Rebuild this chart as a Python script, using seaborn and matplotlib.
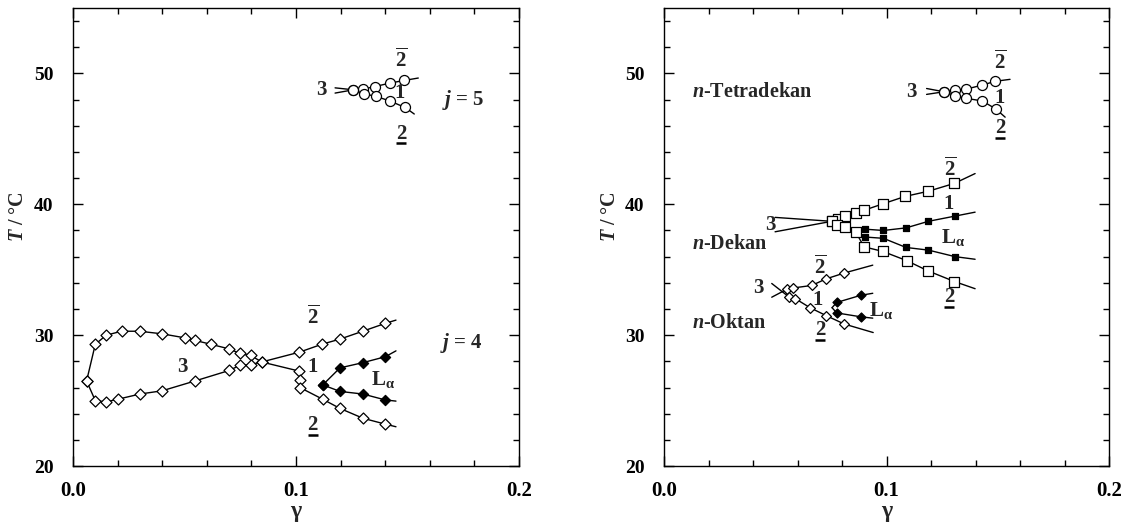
import matplotlib
matplotlib.use("Agg")
import matplotlib.pyplot as plt
import seaborn as sns
from matplotlib.ticker import MultipleLocator, FixedLocator, FixedFormatter
from matplotlib.transforms import ScaledTranslation

sns.set_theme(style="ticks")
plt.rcParams.update({
    "font.family": ["Liberation Serif", "DejaVu Serif"],
    "font.weight": "bold",
    "mathtext.fontset": "custom",
    "mathtext.rm": "Liberation Serif:bold",
    "mathtext.bf": "Liberation Serif:bold",
    "mathtext.it": "Liberation Serif:italic:bold",
    "axes.edgecolor": "black",
    "axes.linewidth": 1.0,
    "xtick.color": "black",
    "ytick.color": "black",
})

# ---------------- left panel: j = 4 ----------------
j4_hi_x = [0.0061, 0.010, 0.0149, 0.0218, 0.0299, 0.040, 0.050, 0.0547, 0.0619, 0.070, 0.0749, 0.0797, 0.0846,
           0.1015, 0.1017, 0.1017, 0.112, 0.1197, 0.130, 0.140]
j4_hi_y = [26.5, 29.3, 30.0, 30.3, 30.3, 30.1, 29.8, 29.6, 29.3, 28.95, 28.6, 28.45, 27.95,
           27.25, 26.56, 26.0, 25.1, 24.4, 23.65, 23.2]
j4_hi_end = (0.1448, 23.0)

j4_lo_x = [0.0061, 0.010, 0.0149, 0.020, 0.030, 0.040, 0.0547, 0.070, 0.0749, 0.0797, 0.0846,
           0.1015, 0.1115, 0.1197, 0.1299, 0.140]
j4_lo_y = [26.5, 25.0, 24.9, 25.1, 25.5, 25.75, 26.5, 27.3, 27.7, 27.75, 27.95,
           28.7, 29.3, 29.7, 30.3, 30.9]
j4_lo_end = (0.1448, 31.15)

j4_la_up_x = [0.112, 0.1197, 0.130, 0.140]
j4_la_up_y = [26.2, 27.5, 27.9, 28.35]
j4_la_up_end = (0.1448, 28.8)
j4_la_dn_x = [0.112, 0.1197, 0.130, 0.140]
j4_la_dn_y = [26.2, 25.7, 25.5, 25.05]
j4_la_dn_end = (0.1448, 24.96)

# ---------------- left panel: j = 5 ----------------
j5_up_x = [0.1257, 0.130, 0.1354, 0.142, 0.1486]
j5_up_y = [48.75, 48.8, 49.0, 49.26, 49.47]
j5_up_ends = [(0.1175, 48.5), (0.1548, 49.65)]
j5_dn_x = [0.1257, 0.1305, 0.136, 0.142, 0.1489]
j5_dn_y = [48.75, 48.45, 48.24, 47.9, 47.4]
j5_dn_ends = [(0.1175, 48.9), (0.153, 46.9)]

# ---------------- right panel: n-Tetradekan ----------------
c14_up_x = [0.1258, 0.1308, 0.1357, 0.1428, 0.1488]
c14_up_y = [48.6, 48.7, 48.8, 49.1, 49.4]
c14_up_ends = [(0.118, 48.4), (0.1555, 49.55)]
c14_dn_x = [0.1258, 0.1308, 0.1357, 0.143, 0.149]
c14_dn_y = [48.6, 48.3, 48.1, 47.9, 47.3]
c14_dn_ends = [(0.118, 48.85), (0.1533, 46.66)]

# ---------------- right panel: n-Dekan ----------------
c10_up_x = [0.0754, 0.0784, 0.0813, 0.0861, 0.0900, 0.0986, 0.1083, 0.1188, 0.1305]
c10_up_y = [38.7, 38.9, 39.1, 39.3, 39.55, 40.05, 40.6, 41.0, 41.6]
c10_up_ends = [(0.0499, 37.9), (0.1398, 42.35)]
c10_dn_x = [0.0754, 0.0776, 0.0813, 0.0861, 0.0899, 0.0983, 0.109, 0.1188, 0.1305]
c10_dn_y = [38.7, 38.4, 38.3, 37.9, 36.75, 36.4, 35.7, 34.9, 34.1]
c10_dn_ends = [(0.0499, 39.0), (0.1398, 33.55)]
c10_la_up_x = [0.0903, 0.0986, 0.1088, 0.1188, 0.1308]
c10_la_up_y = [38.1, 38.0, 38.2, 38.7, 39.1]
c10_la_up_end = (0.1398, 39.4)
c10_la_dn_x = [0.0903, 0.0986, 0.1088, 0.1188, 0.1308]
c10_la_dn_y = [37.5, 37.4, 36.7, 36.5, 36.0]
c10_la_dn_end = (0.1398, 35.8)

# ---------------- right panel: n-Oktan ----------------
c8_up_x = [0.0551, 0.0578, 0.0664, 0.0728, 0.081]
c8_up_y = [33.5, 33.6, 33.8, 34.3, 34.75]
c8_up_ends = [(0.0484, 32.9), (0.0938, 35.35)]
c8_dn_x = [0.0563, 0.0589, 0.0656, 0.0728, 0.081]
c8_dn_y = [32.9, 32.8, 32.1, 31.5, 30.85]
c8_dn_ends = [(0.0484, 33.95), (0.094, 30.2)]
c8_la_up_x = [0.0776, 0.0885]
c8_la_up_y = [32.5, 33.05]
c8_la_up_ends = [(0.0755, 32.1), (0.0938, 33.2)]
c8_la_dn_x = [0.0776, 0.0885]
c8_la_dn_y = [31.7, 31.4]
c8_la_dn_ends = [(0.0755, 32.1), (0.0938, 31.3)]

x_ticks = [0.0, 0.1, 0.2]
x_ticklabels = ["0.0", "0.1", "0.2"]
y_ticks = [20, 30, 40, 50]

BAR2 = r"$\overline{\mathbf{2}}$"
LA = r"$\mathbf{L}_{\mathbf{\alpha}}$"
FS = 15


def branch(ax, xs, ys, start=None, end=None, marker="D", filled=False, ms=5.6):
    lx = ([start[0]] if start else []) + list(xs) + ([end[0]] if end else [])
    ly = ([start[1]] if start else []) + list(ys) + ([end[1]] if end else [])
    sns.lineplot(x=lx, y=ly, sort=False, estimator=None, color="black", lw=1.0, ax=ax, zorder=2)
    sns.scatterplot(x=xs, y=ys, marker=marker, s=ms ** 2,
                    facecolor="black" if filled else "white",
                    edgecolor="black", linewidth=0.9, ax=ax, zorder=3)


def label(ax, x, y, s, **kw):
    ax.text(x, y, s, ha=kw.pop("ha", "center"), va="center", fontsize=kw.pop("fontsize", FS),
            fontweight="bold", **kw)


def label_under(ax, x, y, s):
    # digit with a bar beneath it
    label(ax, x, y, s)
    shift = ScaledTranslation(0, -7.0 / 72, ax.figure.dpi_scale_trans)
    ax.plot([x], [y], marker="_", ms=7.5, mew=1.8, color="black",
            transform=ax.transData + shift, clip_on=False)


fig = plt.figure(figsize=(11.28, 5.28), dpi=100)
axL = fig.add_axes([0.0647, 0.1174, 0.3955, 0.8674])
axR = fig.add_axes([0.5887, 0.1174, 0.3945, 0.8674])

# left panel
branch(axL, j4_hi_x, j4_hi_y, end=j4_hi_end)
branch(axL, j4_lo_x, j4_lo_y, end=j4_lo_end)
branch(axL, j4_la_up_x, j4_la_up_y, end=j4_la_up_end, filled=True, ms=5.2)
branch(axL, j4_la_dn_x, j4_la_dn_y, end=j4_la_dn_end, filled=True, ms=5.2)
branch(axL, j5_up_x, j5_up_y, start=j5_up_ends[0], end=j5_up_ends[1], marker="o", ms=7.2)
branch(axL, j5_dn_x, j5_dn_y, start=j5_dn_ends[0], end=j5_dn_ends[1], marker="o", ms=7.2)

label(axL, 0.049, 27.6, "3")
label(axL, 0.1075, 31.4, BAR2)
label(axL, 0.1075, 27.6, "1")
label(axL, 0.139, 26.6, LA)
label_under(axL, 0.1075, 23.1, "2")
label(axL, 0.174, 29.4, r"$j$ = 4")
label(axL, 0.1113, 48.7, "3")
label(axL, 0.147, 51.0, BAR2)
label(axL, 0.1466, 48.5, "1")
label_under(axL, 0.147, 45.4, "2")
label(axL, 0.175, 47.95, r"$j$ = 5")

# right panel
branch(axR, c14_up_x, c14_up_y, start=c14_up_ends[0], end=c14_up_ends[1], marker="o", ms=7.2)
branch(axR, c14_dn_x, c14_dn_y, start=c14_dn_ends[0], end=c14_dn_ends[1], marker="o", ms=7.2)
branch(axR, c10_up_x, c10_up_y, start=c10_up_ends[0], end=c10_up_ends[1], marker="s", ms=7.0)
branch(axR, c10_dn_x, c10_dn_y, start=c10_dn_ends[0], end=c10_dn_ends[1], marker="s", ms=7.0)
branch(axR, c10_la_up_x, c10_la_up_y, end=c10_la_up_end, marker="s", filled=True, ms=4.2)
branch(axR, c10_la_dn_x, c10_la_dn_y, end=c10_la_dn_end, marker="s", filled=True, ms=4.2)
branch(axR, c8_up_x, c8_up_y, start=c8_up_ends[0], end=c8_up_ends[1], ms=5.0)
branch(axR, c8_dn_x, c8_dn_y, start=c8_dn_ends[0], end=c8_dn_ends[1], ms=5.0)
branch(axR, c8_la_up_x, c8_la_up_y, start=c8_la_up_ends[0], end=c8_la_up_ends[1], filled=True, ms=4.6)
branch(axR, c8_la_dn_x, c8_la_dn_y, start=c8_la_dn_ends[0], end=c8_la_dn_ends[1], filled=True, ms=4.6)

label(axR, 0.0124, 48.6, r"$n$-Tetradekan", ha="left", fontsize=14.5)
label(axR, 0.1113, 48.6, "3")
label(axR, 0.151, 50.9, BAR2)
label(axR, 0.151, 48.1, "1")
label_under(axR, 0.151, 45.8, "2")
label(axR, 0.0124, 37.0, r"$n$-Dekan", ha="left", fontsize=14.5)
label(axR, 0.0476, 38.4, "3")
label(axR, 0.1285, 42.7, BAR2)
label(axR, 0.1278, 40.05, "1")
label(axR, 0.130, 37.5, LA)
label_under(axR, 0.128, 32.9, "2")
label(axR, 0.0124, 30.9, r"$n$-Oktan", ha="left", fontsize=14.5)
label(axR, 0.0424, 33.6, "3")
label(axR, 0.0701, 35.2, BAR2)
label(axR, 0.069, 32.7, "1")
label_under(axR, 0.0701, 30.4, "2")
label(axR, 0.0975, 31.9, LA)

for ax in (axL, axR):
    ax.set_xlim(0, 0.2)
    ax.set_ylim(20, 55)
    ax.xaxis.set_major_locator(FixedLocator(x_ticks))
    ax.xaxis.set_major_formatter(FixedFormatter(x_ticklabels))
    ax.xaxis.set_minor_locator(MultipleLocator(0.02))
    ax.yaxis.set_major_locator(FixedLocator(y_ticks))
    ax.yaxis.set_minor_locator(MultipleLocator(2))
    ax.tick_params(which="both", direction="in", top=True, right=True, width=1.0)
    ax.tick_params(which="major", length=7.2)
    ax.tick_params(axis="y", which="major", pad=14, labelsize=14)
    ax.tick_params(axis="x", which="major", pad=11, labelsize=15)
    ax.tick_params(which="minor", length=4.3)
    for t in ax.get_xticklabels() + ax.get_yticklabels():
        t.set_fontweight("bold")
    for sp in ax.spines.values():
        sp.set_visible(True)
        sp.set_color("black")
    ax.set_xlabel("γ", fontsize=17, fontweight="bold", labelpad=0)
    ax.set_ylabel(r"$T$ / °C", fontsize=14.5, fontweight="bold")
    ax.yaxis.set_label_coords(-0.1, 0.545)

fig.savefig("out.png", dpi=100, facecolor="white")
